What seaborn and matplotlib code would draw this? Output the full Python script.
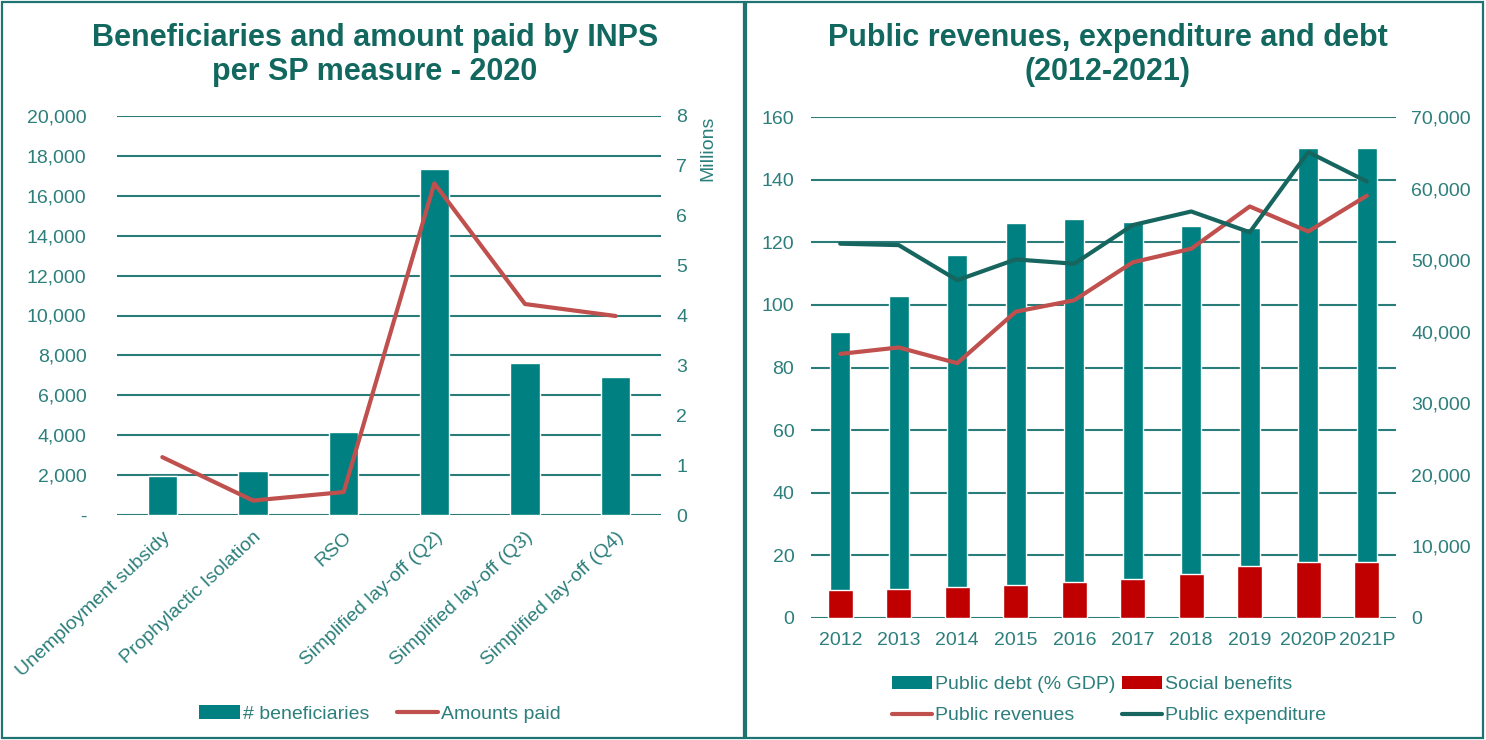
import numpy as np
import pandas as pd
import matplotlib
matplotlib.use("Agg")
import matplotlib.pyplot as plt
from matplotlib.patches import Patch, Rectangle
from matplotlib.lines import Line2D
from matplotlib.ticker import FuncFormatter, MultipleLocator
import seaborn as sns

# ---------------- data ----------------
measures = ["Unemployment subsidy", "Prophylactic Isolation", "RSO",
            "Simplified lay-off (Q2)", "Simplified lay-off (Q3)", "Simplified lay-off (Q4)"]
beneficiaries = [1950, 2200, 4150, 17350, 7600, 6900]
amounts_paid_m = [1.16, 0.29, 0.46, 6.65, 4.23, 3.99]

years = ["2012", "2013", "2014", "2015", "2016", "2017", "2018", "2019", "2020P", "2021P"]
public_debt = [91.4, 102.8, 115.8, 126.0, 127.4, 126.5, 125.2, 124.4, 150.2, 150.2]
social_benefits = [3890, 4070, 4290, 4550, 4990, 5470, 6130, 7220, 7880, 7880]
public_revenues = [36900, 37800, 35600, 42800, 44400, 49700, 51600, 57500, 54000, 59000]
public_expenditure = [52300, 52100, 47200, 50100, 49500, 54900, 56800, 53900, 65100, 61000]

left_title = "Beneficiaries and amount paid by INPS\nper SP measure - 2020"
right_title = "Public revenues, expenditure and debt\n(2012-2021)"

# ---------------- style ----------------
TEAL = "#008080"
DARK = "#17655F"
RED_LINE = "#C0504D"
RED_BAR = "#C00000"
TXT = "#2C7F7B"
TITLE_C = "#12685F"
GRID = "#2A7C78"
BORDER = "#1F7471"
FS = 14

sns.set_theme(style="white")
plt.rcParams["font.family"] = ["Liberation Sans", "DejaVu Sans"]
TITLE_FONT = ["Liberation Sans Narrow", "Liberation Sans", "DejaVu Sans"]

W, H = 1486, 740
fig = plt.figure(figsize=(W / 100, H / 100), dpi=100)

def fx(px):
    return px / W

def fy(py):
    return 1 - py / H

# panel borders
fig.patches.append(Rectangle((fx(2), fy(738)), fx(744) - fx(2), fy(2) - fy(738),
                             transform=fig.transFigure, fill=False, edgecolor=BORDER, lw=1.6))
fig.patches.append(Rectangle((fx(746), fy(738)), fx(1483) - fx(746), fy(2) - fy(738),
                             transform=fig.transFigure, fill=False, edgecolor=BORDER, lw=1.6))

def style_axes(ax):
    for s in ax.spines.values():
        s.set_visible(False)
    ax.tick_params(axis="both", length=0, labelsize=FS, colors=TXT)
    ax.set_xlabel("")
    ax.set_ylabel("")

# ---------------- left chart ----------------
axL = fig.add_axes([fx(117), fy(515), fx(661) - fx(117), fy(116) - fy(515)])
dfL = pd.DataFrame({"measure": measures, "beneficiaries": beneficiaries, "amount": amounts_paid_m})
sns.barplot(data=dfL, x="measure", y="beneficiaries", ax=axL, color=TEAL,
            width=0.32, saturation=1, zorder=2)
axL.set_ylim(0, 20000)
axL.yaxis.set_major_locator(MultipleLocator(2000))
axL.yaxis.set_major_formatter(FuncFormatter(lambda v, p: "-" if v == 0 else f"{v:,.0f}"))
axL.grid(axis="y", color=GRID, lw=1.5)
axL.set_axisbelow(True)
axL.set_xlim(-0.5, len(measures) - 0.5)
style_axes(axL)
axL.tick_params(axis="y", pad=22)
axL.set_xticks(range(len(measures)))
axL.set_xticklabels(measures, rotation=43, ha="right", rotation_mode="anchor")
axL.tick_params(axis="x", pad=10)

axL2 = axL.twinx()
sns.lineplot(x=np.arange(len(measures)), y=amounts_paid_m, ax=axL2, color=RED_LINE, lw=3, zorder=3)
axL2.set_ylim(0, 8)
axL2.yaxis.set_major_locator(MultipleLocator(1))
axL2.set_xlim(-0.5, len(measures) - 0.5)
style_axes(axL2)
axL2.tick_params(axis="y", pad=11)
axL2.set_ylabel("Millions", color=TXT, fontsize=FS, loc="top", labelpad=9)

fig.text(fx(375), fy(55), left_title, ha="center", va="center", fontsize=22,
         fontweight="bold", color=TITLE_C, family=TITLE_FONT, linespacing=1.2)

fig.legend(handles=[Patch(facecolor=TEAL, edgecolor="none", label="# beneficiaries"),
                    Line2D([], [], color=RED_LINE, lw=3, label="Amounts paid")],
           loc="center", bbox_to_anchor=(fx(380), fy(714)), ncol=2, frameon=False,
           fontsize=FS, labelcolor=TXT, handlelength=2.1, handletextpad=0.15,
           columnspacing=1.45)

# ---------------- right chart ----------------
axR = fig.add_axes([fx(811), fy(618), fx(1396) - fx(811), fy(117) - fy(618)])
dfR = pd.DataFrame({"year": years, "debt": public_debt, "social": social_benefits,
                    "rev": public_revenues, "exp": public_expenditure})
sns.barplot(data=dfR, x="year", y="debt", ax=axR, color=TEAL, width=0.35, saturation=1, zorder=2)
axR.set_ylim(0, 160)
axR.yaxis.set_major_locator(MultipleLocator(20))
axR.grid(axis="y", color=GRID, lw=1.5)
axR.set_axisbelow(True)
axR.set_xlim(-0.5, len(years) - 0.5)
style_axes(axR)
axR.tick_params(axis="y", pad=12)
axR.tick_params(axis="x", pad=10)

axR2 = axR.twinx()
sns.barplot(data=dfR, x="year", y="social", ax=axR2, color=RED_BAR, width=0.43,
            saturation=1, zorder=2)
sns.lineplot(x=np.arange(len(years)), y=public_revenues, ax=axR2, color=RED_LINE, lw=3, zorder=3)
sns.lineplot(x=np.arange(len(years)), y=public_expenditure, ax=axR2, color=DARK, lw=3, zorder=3)
axR2.set_ylim(0, 70000)
axR2.yaxis.set_major_locator(MultipleLocator(10000))
axR2.yaxis.set_major_formatter(FuncFormatter(lambda v, p: f"{v:,.0f}"))
axR2.set_xlim(-0.5, len(years) - 0.5)
style_axes(axR2)
axR2.tick_params(axis="y", pad=11)
axR.set_xticks(range(len(years)))
axR.set_xticklabels(years)

fig.text(fx(1108), fy(55), right_title, ha="center", va="center", fontsize=22,
         fontweight="bold", color=TITLE_C, family=TITLE_FONT, linespacing=1.2)

fig.legend(handles=[Patch(facecolor=TEAL, edgecolor="none", label="Public debt (% GDP)"),
                    Line2D([], [], color=RED_LINE, lw=3, label="Public revenues"),
                    Patch(facecolor=RED_BAR, edgecolor="none", label="Social benefits"),
                    Line2D([], [], color=DARK, lw=3, label="Public expenditure")],
           loc="center", bbox_to_anchor=(fx(1109), fy(700)), ncol=2, frameon=False,
           fontsize=FS, labelcolor=TXT, handlelength=2.1, handletextpad=0.15,
           columnspacing=0.3, labelspacing=0.7)

fig.savefig("out.png", dpi=100)
